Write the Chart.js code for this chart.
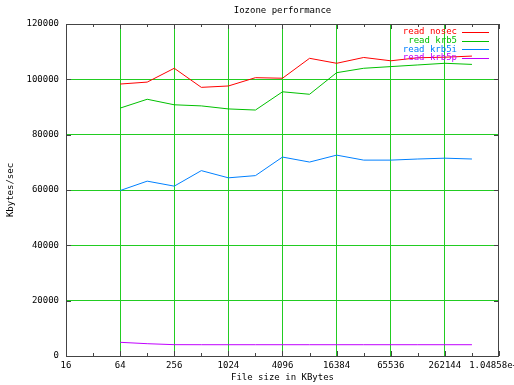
<!DOCTYPE html>
<html>
<head>
<meta charset="utf-8">
<script src="https://cdn.jsdelivr.net/npm/chart.js@4"></script>
<style>
  html, body { margin: 0; padding: 0; background: #fff; }
  #wrap { width: 514px; height: 385px; }
</style>
</head>
<body>
<div id="wrap"><canvas id="chart" width="514" height="385"></canvas></div>
<script>
  // File sizes (KBytes) and read rates (Kbytes/sec)
  const fileSizes = [64, 128, 256, 512, 1024, 2048, 4096, 8192, 16384, 32768, 65536, 131072, 262144, 524288];
  const readNosec = [98300, 99000, 104000, 97100, 97600, 100600, 100400, 107600, 105800, 107900, 106700, 107800, 108000, 108400];
  const readKrb5 = [89600, 92800, 90800, 90400, 89300, 88900, 95500, 94600, 102400, 104000, 104600, 105200, 105800, 105400];
  const readKrb5i = [59800, 63200, 61400, 67000, 64400, 65200, 71900, 70100, 72600, 70800, 70800, 71200, 71500, 71200];
  const readKrb5p = [4950, 4450, 4100, 4080, 4080, 4080, 4080, 4080, 4080, 4080, 4080, 4080, 4080, 4080];

  const xTicks = [16, 64, 256, 1024, 4096, 16384, 65536, 262144, 1048576];
  const xTickLabels = ['16', '64', '256', '1024', '4096', '16384', '65536', '262144', '1.04858e+06'];
  const yTicks = [0, 20000, 40000, 60000, 80000, 100000, 120000];

  const FONT = { family: 'DejaVu Sans Mono', size: 9 };
  const GRID_GREEN = '#22cc22';
  const FRAME = '#444444';

  function series(label, values, color) {
    return {
      label: label,
      data: fileSizes.map((x, i) => ({ x: x, y: values[i] })),
      borderColor: color,
      backgroundColor: color,
      borderWidth: 1,
      pointRadius: 0,
      tension: 0,
      fill: false
    };
  }

  // gnuplot style frame, mirror ticks and legend
  const gnuplotDecor = {
    id: 'gnuplotDecor',
    afterDraw(chart) {
      const ctx = chart.ctx;
      const a = chart.chartArea;
      const xs = chart.scales.x;
      const ys = chart.scales.y;
      ctx.save();
      ctx.strokeStyle = FRAME;
      ctx.lineWidth = 1;
      ctx.strokeRect(Math.round(a.left) + 0.5, Math.round(a.top) + 0.5,
        Math.round(a.right - a.left) - 1, Math.round(a.bottom - a.top));

      ctx.beginPath();
      // major x ticks (bottom and top)
      xTicks.forEach(v => {
        const px = Math.round(xs.getPixelForValue(v)) + 0.5;
        ctx.moveTo(px, a.bottom); ctx.lineTo(px, a.bottom - 5);
        ctx.moveTo(px, a.top); ctx.lineTo(px, a.top + 5);
      });
      // minor x ticks
      xTicks.slice(0, -1).forEach(v => {
        const px = Math.round(xs.getPixelForValue(v * 2)) + 0.5;
        ctx.moveTo(px, a.bottom); ctx.lineTo(px, a.bottom - 3);
        ctx.moveTo(px, a.top); ctx.lineTo(px, a.top + 3);
      });
      // y ticks (left and right)
      yTicks.forEach(v => {
        const py = Math.round(ys.getPixelForValue(v)) + 0.5;
        ctx.moveTo(a.left, py); ctx.lineTo(a.left + 5, py);
        ctx.moveTo(a.right, py); ctx.lineTo(a.right - 5, py);
      });
      ctx.stroke();

      // legend: right-aligned text, then line sample
      ctx.font = FONT.size + 'px "' + FONT.family + '"';
      ctx.textAlign = 'right';
      ctx.textBaseline = 'middle';
      chart.data.datasets.forEach((ds, i) => {
        const y = 32 + i * 8.7;
        ctx.fillStyle = ds.borderColor;
        ctx.fillText(ds.label, 457, y);
        ctx.strokeStyle = ds.borderColor;
        ctx.beginPath();
        ctx.moveTo(462, Math.round(y) + 0.5);
        ctx.lineTo(489, Math.round(y) + 0.5);
        ctx.stroke();
      });
      ctx.restore();
    }
  };

  Chart.defaults.font.family = FONT.family;
  Chart.defaults.font.size = FONT.size;
  Chart.defaults.color = '#000';

  new Chart(document.getElementById('chart').getContext('2d'), {
    type: 'line',
    data: {
      datasets: [
        series('read nosec', readNosec, '#ff0000'),
        series('read krb5', readKrb5, '#00c000'),
        series('read krb5i', readKrb5i, '#0080ff'),
        series('read krb5p', readKrb5p, '#c000ff')
      ]
    },
    options: {
      responsive: false,
      animation: false,
      layout: { padding: { top: 0, right: 15, left: 0, bottom: 0 } },
      plugins: {
        legend: { display: false },
        tooltip: { enabled: false },
        title: {
          display: true,
          fullSize: false,
          text: 'Iozone performance',
          font: { family: FONT.family, size: 9, weight: 'normal' },
          color: '#000',
          padding: { top: 5, bottom: 8.2 }
        }
      },
      scales: {
        x: {
          type: 'logarithmic',
          min: 16,
          max: 1048576,
          afterBuildTicks: scale => { scale.ticks = xTicks.map(v => ({ value: v })); },
          afterFit: scale => {
            scale.height = 29;
            scale.paddingLeft = 0;
            scale.paddingRight = 0;
          },
          ticks: {
            autoSkip: false,
            maxRotation: 0,
            padding: 4,
            callback: (v) => xTickLabels[xTicks.indexOf(v)]
          },
          grid: {
            drawTicks: false,
            color: c => (c.tick && (c.tick.value === 16 || c.tick.value === 1048576)) ? 'rgba(0,0,0,0)' : GRID_GREEN,
            lineWidth: 1
          },
          border: { display: false },
          title: {
            display: true,
            text: 'File size in KBytes',
            padding: { top: 0, bottom: 2 }
          }
        },
        y: {
          min: 0,
          max: 120000,
          afterBuildTicks: scale => { scale.ticks = yTicks.map(v => ({ value: v })); },
          afterFit: scale => {
            scale.width = 66;
            scale.paddingTop = 0;
            scale.paddingBottom = 0;
          },
          ticks: {
            padding: 7,
            callback: v => String(v)
          },
          grid: {
            drawTicks: false,
            color: c => (c.tick && (c.tick.value === 0 || c.tick.value === 120000)) ? 'rgba(0,0,0,0)' : GRID_GREEN,
            lineWidth: 1
          },
          border: { display: false },
          title: {
            display: true,
            text: 'Kbytes/sec',
            padding: { top: 5.6, bottom: 0 }
          }
        }
      }
    },
    plugins: [gnuplotDecor]
  });
</script>
</body>
</html>
